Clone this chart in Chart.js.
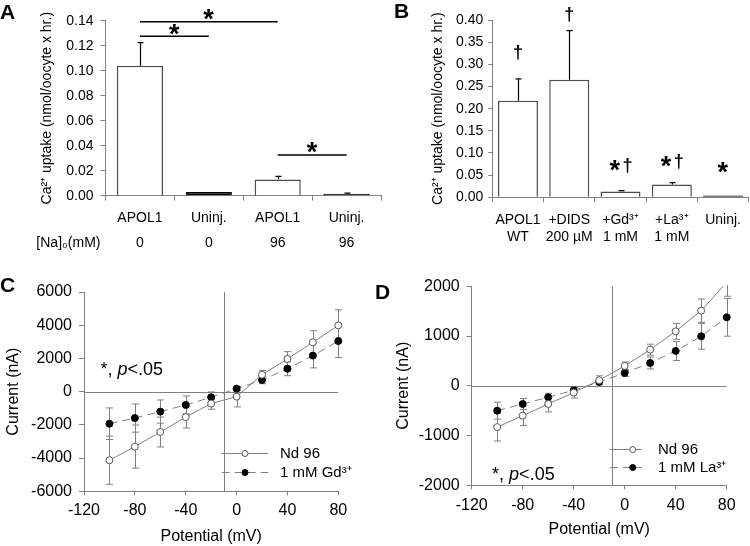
<!DOCTYPE html>
<html>
<head>
<meta charset="utf-8">
<title>APOL1 Ca2+ uptake and I-V curves</title>
<script src="https://cdn.jsdelivr.net/npm/chart.js@4.4.1/dist/chart.umd.min.js"></script>
<style>
  html, body { margin: 0; padding: 0; background: #fff; overflow: hidden; }
  #figure { position: relative; width: 750px; height: 546px; }
  #figure canvas { position: absolute; left: 0; top: 0; }
  .panel { position: absolute; font: bold 21px "Liberation Sans", Arial, sans-serif; line-height: 1; color: #000; }
</style>
</head>
<body>
<div id="figure">
  <canvas id="chartA" width="750" height="546"></canvas>
  <canvas id="chartB" width="750" height="546"></canvas>
  <canvas id="chartC" width="750" height="546"></canvas>
  <canvas id="chartD" width="750" height="546"></canvas>
  <div class="panel" style="left:0;top:1px">A</div>
  <div class="panel" style="left:394px;top:0">B</div>
  <div class="panel" style="left:0;top:274px">C</div>
  <div class="panel" style="left:375px;top:281px">D</div>
</div>

<script>
/* =========================
   DATA
========================= */

// Panel A : uptake vs external sodium
const catsA = ["APOL1", "Uninj.", "APOL1", "Uninj."];
const sodiumA = ["0", "0", "96", "96"];
const uptakeA = [0.104, 0.003, 0.013, 0.0015];
const errA = [0.0185, 0, 0.0025, 0.0005];
const yTicksA = [0, 0.02, 0.04, 0.06, 0.08, 0.10, 0.12, 0.14];
const sigFromA = [0, 0, 2];
const sigToA = [2, 1, 3];
const sigLevelA = [0.1392, 0.1275, 0.0326];

// Panel B : inhibitors
const catsB = [["APOL1", "WT"], ["+DIDS", "200 µM"], ["+Gd³⁺", "1 mM"], ["+La³⁺", "1 mM"], ["Uninj."]];
const uptakeB = [0.218, 0.265, 0.013, 0.029, 0.004];
const errB = [0.049, 0.111, 0.002, 0.004, 0];
const yTicksB = [0, 0.05, 0.10, 0.15, 0.20, 0.25, 0.30, 0.35, 0.40];
const markTextB = ["†", "†", "*†", "*†", "*"];
const markLevelB = [0.327, 0.413, 0.071, 0.080, 0.067];

// Panels C and D : current / voltage
const potential = [-100, -80, -60, -40, -20, 0, 20, 40, 60, 80];
const xTicksCD = [-120, -80, -40, 0, 40, 80];

const seriesC = ["Nd 96", "1 mM Gd³⁺"];
const ndC = [-4130, -3310, -2430, -1530, -720, -300, 1020, 1970, 2970, 3990];
const ndErrC = [1450, 1300, 900, 660, 340, 620, 260, 440, 700, 940];
const gdC = [-1930, -1590, -1200, -800, -340, 180, 700, 1380, 2170, 3050];
const gdErrC = [950, 850, 700, 540, 320, 100, 220, 420, 740, 1000];
const yTicksC = [-6000, -4000, -2000, 0, 2000, 4000, 6000];
const noteXC = -107, noteYC = 1300;

const seriesD = ["Nd 96", "1 mM La³⁺"];
const ndD = [-830, -600, -365, -137, 111, 399, 727, 1095, 1511, 2080];
const ndErrD = [280, 200, 160, 110, 90, 80, 110, 160, 235, 280];
const laD = [-500, -365, -231, -90, 77, 258, 459, 700, 995, 1377];
const laErrD = [170, 110, 80, 60, 40, 70, 120, 190, 260, 380];
const yTicksD = [-2000, -1000, 0, 1000, 2000];
const noteXD = -104, noteYD = -1790;

const crossX = -10;   // vertical reference line in C and D

/* =========================
   SHARED STYLE + HELPERS
========================= */

const FONT = '"Liberation Sans", Arial, Helvetica, sans-serif';
const GREY = "#808080";
const STAR_FONT = "bold 27px " + FONT;
const DAGGER_FONT = "bold 18px " + FONT;

function glyphWidth(ctx, ch, font) {
    ctx.font = font;
    const m = ctx.measureText(ch);
    return m.actualBoundingBoxRight + m.actualBoundingBoxLeft;
}

// draw a glyph with its ink box starting at left and centred on yc
function drawGlyph(ctx, ch, left, yc, font) {
    ctx.font = font;
    ctx.textAlign = "left";
    ctx.textBaseline = "alphabetic";
    const m = ctx.measureText(ch);
    ctx.fillText(ch, left + m.actualBoundingBoxLeft, yc + (m.actualBoundingBoxAscent - m.actualBoundingBoxDescent) / 2);
}

function drawMarks(ctx, text, cx, yc) {
    const chars = Array.from(text);
    const fonts = chars.map(c => c === "*" ? STAR_FONT : DAGGER_FONT);
    const widths = chars.map((c, i) => glyphWidth(ctx, c, fonts[i]));
    const gap = 3;
    const total = widths.reduce((a, b) => a + b, 0) + gap * (chars.length - 1);
    let left = cx - total / 2;
    chars.forEach((c, i) => {
        drawGlyph(ctx, c, left, yc, fonts[i]);
        left += widths[i] + gap;
    });
}

/* =========================
   ERROR BARS PLUGIN
========================= */

const errorBars = {
    id: "errorBars",
    beforeDatasetsDraw(chart, args, opts) { if (opts.under) drawErrorBars(chart, opts); },
    afterDatasetsDraw(chart, args, opts) { if (!opts.under) drawErrorBars(chart, opts); }
};

function drawErrorBars(chart, opts) {
    const { ctx, chartArea: a } = chart;
    const yScale = chart.scales.y;

    ctx.save();
    ctx.beginPath();
    ctx.rect(a.left - 6, a.top - 1, a.right - a.left + 12, a.bottom - a.top + 7);
    ctx.clip();
    ctx.strokeStyle = opts.color;
    ctx.lineWidth = opts.width;

    chart.data.datasets.forEach((ds, i) => {
        if (!ds.errors) return;
        chart.getDatasetMeta(i).data.forEach((el, j) => {
            const err = ds.errors[j];
            if (!err) return;
            const raw = ds.data[j];
            const v = typeof raw === "object" ? raw.y : raw;
            const yTop = yScale.getPixelForValue(v + err);
            const yBot = yScale.getPixelForValue(opts.upperOnly ? v : v - err);
            const x = Math.round(el.x) + 0.5;
            const c = opts.cap;
            ctx.beginPath();
            ctx.moveTo(x, yBot);
            ctx.lineTo(x, yTop);
            ctx.moveTo(x - c, yTop);
            ctx.lineTo(x + c, yTop);
            if (!opts.upperOnly) {
                ctx.moveTo(x - c, yBot);
                ctx.lineTo(x + c, yBot);
            }
            ctx.stroke();
        });
    });
    ctx.restore();
}

/* =========================
   PANEL A
========================= */

const sigPluginA = {
    id: "sigA",
    afterDatasetsDraw(chart) {
        const { ctx, scales: { x, y } } = chart;
        ctx.save();
        ctx.strokeStyle = "#000";
        ctx.fillStyle = "#000";
        ctx.lineWidth = 1.5;
        sigLevelA.forEach((lvl, i) => {
            const x0 = x.getPixelForValue(sigFromA[i]);
            const x1 = x.getPixelForValue(sigToA[i]);
            const py = y.getPixelForValue(lvl);
            ctx.beginPath();
            ctx.moveTo(x0, py);
            ctx.lineTo(x1, py);
            ctx.stroke();
            drawMarks(ctx, "*", (x0 + x1) / 2, py - 7);
        });

        // row title for the sodium line of the category labels
        ctx.font = "14px " + FONT;
        ctx.textAlign = "right";
        ctx.textBaseline = "middle";
        ctx.fillText("[Na]₀(mM)", chart.chartArea.left - 5, x.top + 5 + 4.8 + 25 * 1.5);
        ctx.restore();
    }
};

new Chart(document.getElementById("chartA"), {
    type: "bar",
    data: {
        labels: catsA.map((c, i) => [c, sodiumA[i]]),
        datasets: [{
            data: uptakeA,
            errors: errA,
            backgroundColor: catsA.map(c => c === "Uninj." ? "#000" : "#fff"),
            borderColor: catsA.map(c => c === "Uninj." ? "#000" : "#4d4d4d"),
            borderWidth: 1.5,
            barPercentage: 0.67,
            categoryPercentage: 1
        }]
    },
    options: {
        responsive: false,
        animation: false,
        events: [],
        layout: { padding: { left: 38.3, top: 20.7, right: 369, bottom: 290.3 } },
        plugins: {
            legend: { display: false },
            tooltip: { enabled: false },
            errorBars: { upperOnly: true, under: false, color: "#000", width: 1.2, cap: 3 }
        },
        scales: {
            x: {
                grid: { drawOnChartArea: false, color: GREY, tickLength: 5 },
                border: { color: GREY },
                ticks: { color: "#000", font: { family: FONT, size: 14, lineHeight: 25 / 14 }, padding: 4.8, maxRotation: 0, autoSkip: false },
                afterFit: s => { s.height = 60; }
            },
            y: {
                min: 0,
                max: 0.14,
                afterBuildTicks: s => { s.ticks = yTicksA.map(v => ({ value: v })); },
                grid: { drawOnChartArea: false, color: GREY, tickLength: 5 },
                border: { color: GREY },
                ticks: { color: "#000", font: { family: FONT, size: 14 }, padding: 7, callback: v => v.toFixed(2) },
                title: { display: true, text: "Ca²⁺ uptake (nmol/oocyte x hr.)", color: "#000", font: { family: FONT, size: 14, lineHeight: 1.2 }, padding: 0 },
                afterFit: s => { s.width = 67.2; }
            }
        }
    },
    plugins: [errorBars, sigPluginA]
});

/* =========================
   PANEL B
========================= */

const marksPluginB = {
    id: "marksB",
    afterDatasetsDraw(chart) {
        const { ctx, scales: { x, y } } = chart;
        ctx.save();
        ctx.fillStyle = "#000";
        markTextB.forEach((t, i) => {
            drawMarks(ctx, t, x.getPixelForValue(i), y.getPixelForValue(markLevelB[i]));
        });
        ctx.restore();
    }
};

new Chart(document.getElementById("chartB"), {
    type: "bar",
    data: {
        labels: catsB,
        datasets: [{
            data: uptakeB,
            errors: errB,
            backgroundColor: catsB.map(c => c[0] === "Uninj." ? "#000" : "#fff"),
            borderColor: catsB.map(c => c[0] === "Uninj." ? "#000" : "#4d4d4d"),
            borderWidth: 1.5,
            barPercentage: 0.78,
            categoryPercentage: 1
        }]
    },
    options: {
        responsive: false,
        animation: false,
        events: [],
        layout: { padding: { left: 430.1, top: 20, right: 0, bottom: 288.7 } },
        plugins: {
            legend: { display: false },
            tooltip: { enabled: false },
            errorBars: { upperOnly: true, under: false, color: "#000", width: 1.2, cap: 3 }
        },
        scales: {
            x: {
                grid: { drawOnChartArea: false, color: GREY, tickLength: 5 },
                border: { color: GREY },
                ticks: { color: "#000", font: { family: FONT, size: 14, lineHeight: 1.25 }, padding: 9, maxRotation: 0, autoSkip: false },
                afterFit: s => { s.height = 60; }
            },
            y: {
                min: 0,
                max: 0.40,
                afterBuildTicks: s => { s.ticks = yTicksB.map(v => ({ value: v })); },
                grid: { drawOnChartArea: false, color: GREY, tickLength: 4 },
                border: { color: GREY },
                ticks: { color: "#000", font: { family: FONT, size: 14 }, padding: 5, callback: v => v.toFixed(2) },
                title: { display: true, text: "Ca²⁺ uptake (nmol/oocyte x hr.)", color: "#000", font: { family: FONT, size: 14, lineHeight: 1.2 }, padding: 0 },
                afterFit: s => { s.width = 62.2; }
            }
        }
    },
    plugins: [errorBars, marksPluginB]
});

/* =========================
   PANELS C + D (I-V curves)
========================= */

function ivPlugin(cfg) {
    return {
        id: "iv",
        beforeDatasetsDraw(chart) {
            const { ctx, chartArea: a, scales: { x, y } } = chart;
            ctx.save();
            ctx.strokeStyle = GREY;
            ctx.lineWidth = 1;
            const py = Math.round(y.getPixelForValue(0)) + 0.5;
            const px = Math.round(x.getPixelForValue(crossX)) + 0.5;
            ctx.beginPath();
            ctx.moveTo(a.left, py);
            ctx.lineTo(a.right, py);
            ctx.moveTo(px, a.top);
            ctx.lineTo(px, a.bottom);
            ctx.stroke();
            ctx.restore();
        },
        afterDatasetsDraw(chart) {
            const { ctx, chartArea: a, scales: { x, y } } = chart;
            ctx.save();

            // legend
            chart.data.datasets.forEach((ds, i) => {
                const ly = Math.round(a.top + cfg.legendY[i]) + 0.5;
                ctx.strokeStyle = ds.borderColor;
                ctx.lineWidth = 1;
                ctx.setLineDash(ds.borderDash || []);
                ctx.beginPath();
                ctx.moveTo(a.left + cfg.legendX0, ly);
                ctx.lineTo(a.left + cfg.legendX1, ly);
                ctx.stroke();
                ctx.setLineDash([]);
                ctx.beginPath();
                ctx.arc(a.left + cfg.legendDot, ly, 3, 0, Math.PI * 2);
                ctx.fillStyle = ds.pointBackgroundColor;
                ctx.fill();
                ctx.strokeStyle = ds.pointBorderColor;
                ctx.stroke();
                ctx.fillStyle = "#000";
                ctx.font = "15px " + FONT;
                ctx.textAlign = "left";
                ctx.textBaseline = "middle";
                ctx.fillText(ds.label, a.left + cfg.legendText, ly);
            });

            // significance note "*, p<.05"
            const parts = [["*, ", "18px "], ["p", "italic 18px "], ["<.05", "18px "]];
            let nx = x.getPixelForValue(cfg.noteX);
            const ny = y.getPixelForValue(cfg.noteY);
            ctx.fillStyle = "#000";
            ctx.textAlign = "left";
            ctx.textBaseline = "middle";
            parts.forEach(([t, f]) => {
                ctx.font = f + FONT;
                ctx.fillText(t, nx, ny);
                nx += ctx.measureText(t).width;
            });
            ctx.restore();
        }
    };
}

function ivDatasets(names, open, openErr, closed, closedErr) {
    const clip = { left: 6, top: 0, right: 6, bottom: 6 };
    return [
        {
            label: names[0],
            data: potential.map((p, i) => ({ x: p, y: open[i] })),
            errors: openErr,
            borderColor: GREY,
            borderWidth: 1,
            pointRadius: 3.5,
            pointBorderWidth: 1,
            pointBackgroundColor: "#fff",
            pointBorderColor: "#555",
            tension: 0,
            clip: clip
        },
        {
            label: names[1],
            data: potential.map((p, i) => ({ x: p, y: closed[i] })),
            errors: closedErr,
            borderColor: GREY,
            borderWidth: 1,
            borderDash: [8, 5],
            pointRadius: 3.5,
            pointBorderWidth: 1,
            pointBackgroundColor: "#000",
            pointBorderColor: "#000",
            tension: 0,
            clip: clip
        }
    ];
}

function ivOptions(o) {
    return {
        responsive: false,
        animation: false,
        events: [],
        layout: { padding: o.padding },
        plugins: {
            legend: { display: false },
            tooltip: { enabled: false },
            errorBars: { upperOnly: false, under: true, color: GREY, width: 1, cap: 3.5 }
        },
        scales: {
            x: {
                type: "linear",
                min: -120,
                max: 80,
                afterBuildTicks: s => { s.ticks = xTicksCD.map(v => ({ value: v })); },
                grid: { drawOnChartArea: false, color: GREY, tickLength: 4 },
                border: { color: GREY },
                ticks: { color: "#000", font: { family: FONT, size: 16, lineHeight: 1 }, padding: o.xPad, callback: v => String(v) },
                title: { display: true, text: "Potential (mV)", color: "#000", font: { family: FONT, size: 16, lineHeight: 1 }, padding: { top: 0, bottom: o.titlePad } },
                afterFit: s => { s.height = o.xHeight; }
            },
            y: {
                min: o.yTicks[0],
                max: o.yTicks[o.yTicks.length - 1],
                afterBuildTicks: s => { s.ticks = o.yTicks.map(v => ({ value: v })); },
                grid: { drawOnChartArea: false, color: GREY, tickLength: 5 },
                border: { color: GREY },
                ticks: { color: "#000", font: { family: FONT, size: 16 }, padding: 7, callback: v => String(v) },
                title: { display: true, text: "Current (nA)", color: "#000", font: { family: FONT, size: 16, lineHeight: 1 }, padding: 0 },
                afterFit: s => { s.width = o.yWidth; }
            }
        }
    };
}

new Chart(document.getElementById("chartC"), {
    type: "line",
    data: { datasets: ivDatasets(seriesC, ndC, ndErrC, gdC, gdErrC) },
    options: ivOptions({
        padding: { left: 6, top: 292, right: 411.7, bottom: 0 },
        yTicks: yTicksC, yWidth: 78, xHeight: 54.7, xPad: 7.7, titlePad: 1
    }),
    plugins: [errorBars, ivPlugin({
        noteX: noteXC, noteY: noteYC,
        legendX0: 137.7, legendX1: 184.3, legendDot: 161, legendText: 196, legendY: [161.3, 180.3]
    })]
});

new Chart(document.getElementById("chartD"), {
    type: "line",
    data: { datasets: ivDatasets(seriesD, ndD, ndErrD, laD, laErrD) },
    options: ivOptions({
        padding: { left: 395.3, top: 286.3, right: 23.3, bottom: 8 },
        yTicks: yTicksD, yWidth: 76.4, xHeight: 52.7, xPad: 8.7, titlePad: 0
    }),
    plugins: [errorBars, ivPlugin({
        noteX: noteXD, noteY: noteYD,
        legendX0: 138.3, legendX1: 170, legendDot: 161, legendText: 186.3, legendY: [162.7, 181]
    })]
});
</script>
</body>
</html>
